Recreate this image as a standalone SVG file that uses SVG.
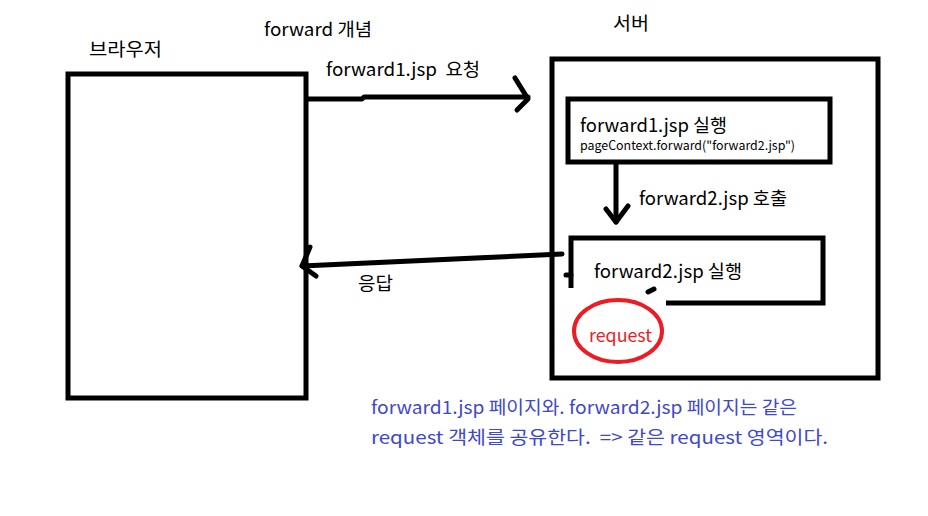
<svg xmlns="http://www.w3.org/2000/svg" width="928" height="516" viewBox="0 0 928 516">
<style>
text{font-family:"Noto Sans CJK KR","Noto Sans",sans-serif;fill:#000}
.box{fill:none;stroke:#000;stroke-width:5}
.ln{fill:none;stroke:#000;stroke-width:5;stroke-linecap:round;stroke-linejoin:round}
.t17{font-size:18px}
.t18{font-size:18.5px}
.blue{fill:#3F48CC;font-size:18px}
</style>
<rect width="928" height="516" fill="#fff"/>
<text class="t17" x="264" y="36" textLength="108" lengthAdjust="spacingAndGlyphs">forward 개념</text>
<g id="browser">
<rect class="box" x="68" y="74" width="238" height="324"/>
<text class="t17" x="89" y="56" textLength="73" lengthAdjust="spacingAndGlyphs">브라우저</text>
</g>
<g id="server">
<rect class="box" x="552" y="59" width="326" height="319"/>
<text class="t17" x="613" y="30" textLength="36" lengthAdjust="spacingAndGlyphs">서버</text>
</g>
<g id="forward1">
<rect class="box" x="568" y="99" width="262" height="63"/>
<text class="t18" x="580" y="132" textLength="147" lengthAdjust="spacingAndGlyphs">forward1.jsp 실행</text>
<text x="580" y="150" font-size="12.5" textLength="215" lengthAdjust="spacingAndGlyphs">pageContext.forward("forward2.jsp")</text>
</g>
<g id="forward2">
<path class="box" d="M571 288 V238 H823 V303 H666"/>
<path class="ln" d="M566 275 H571 M648 292 L654 289" stroke-width="4"/>
<text class="t18" x="594" y="278" textLength="148" lengthAdjust="spacingAndGlyphs">forward2.jsp 실행</text>
</g>
<g id="request">
<ellipse cx="618" cy="331" rx="44" ry="31" fill="none" stroke="#ED1C24" stroke-width="4"/>
<text x="589" y="342" font-size="17.5" textLength="63" lengthAdjust="spacingAndGlyphs" style="fill:#ED1C24">request</text>
</g>
<g id="connectors">
<path class="ln" d="M308 99 H362 L364 97 H528"/>
<path class="ln" d="M515 78 L528 99 L517 110"/>
<text class="t17" x="326" y="76" xml:space="preserve" textLength="154" lengthAdjust="spacingAndGlyphs">forward1.jsp  요청</text>
<path class="ln" d="M616 163 V222"/>
<path class="ln" d="M606 209 L616 222 L628 206"/>
<text class="t18" x="639" y="205" textLength="148" lengthAdjust="spacingAndGlyphs">forward2.jsp 호출</text>
<path class="ln" d="M562 254 L302 266"/>
<path class="ln" d="M310 247 L302 266 L316 276"/>
<text class="t17" x="358" y="290" textLength="35" lengthAdjust="spacingAndGlyphs">응답</text>
</g>
<text class="blue" x="371" y="414" textLength="426" lengthAdjust="spacingAndGlyphs">forward1.jsp 페이지와. forward2.jsp 페이지는 같은</text>
<text class="blue" x="371" y="444" xml:space="preserve" textLength="457" lengthAdjust="spacingAndGlyphs">request 객체를 공유한다.  =&gt; 같은 request 영역이다.</text>
</svg>
